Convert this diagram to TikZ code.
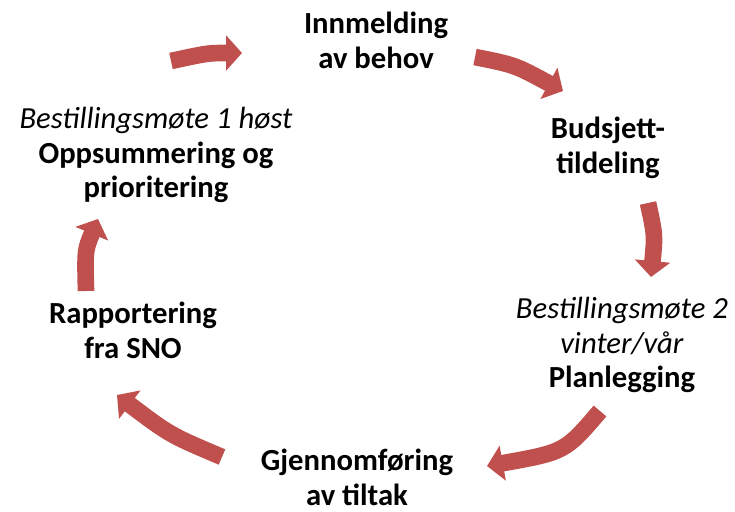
\documentclass[tikz,border=0pt]{standalone}
\usepackage{fontspec}
\setmainfont{Carlito}
\usepackage{tikz}
\usetikzlibrary{arrows.meta, calc}

\definecolor{pilrod}{HTML}{C0504D}
\tikzset{
  steg/.style={align=center, font=\fontsize{23}{26.2}\selectfont\bfseries},
  pil/.style={draw=pilrod, line width=12.5pt, -{Triangle[width=26pt,length=12pt]}}
}

\begin{document}
\begin{tikzpicture}[x=0.75pt, y=-0.75pt]
    \useasboundingbox (0,0) rectangle (735,511);

    \node[steg] (innm) at (376, 40) {Innmelding\\av behov};
    \node[steg] (budsj) at (608, 148) {Budsjett-\\tildeling};
    \node[steg] (plan) at (622, 345) {\textmd{\itshape Bestillingsmøte 2}\\\textmd{\itshape vinter/vår}\\Planlegging};
    \node[steg] (gjen) at (357, 477) {Gjennomføring\\av tiltak};
    \node[steg] (rapp) at (133, 330) {Rapportering\\fra SNO};
    \node[steg] (opps) at (156, 155) {\textmd{\itshape Bestillingsmøte 1 høst}\\Oppsummering og\\prioritering};

    % pil-endepunkter
    \coordinate (a1) at (171, 61);  \coordinate (b1) at (242, 53);
    \coordinate (a2) at (475, 57);  \coordinate (b2) at (563, 91);
    \coordinate (a3) at (648, 203); \coordinate (b3) at (651, 277);
    \coordinate (a4) at (600, 411); \coordinate (b4) at (487, 466);
    \coordinate (a5) at (222, 457); \coordinate (b5) at (117, 395);
    \coordinate (a6) at (86, 291);  \coordinate (b6) at (98, 219);

    \draw[pil] (a1) .. controls (208, 53) .. (b1);
    \draw[pil] (a2) .. controls (515, 65) .. (b2);
    \draw[pil] (a3) .. controls (655, 235) .. (b3);
    \draw[pil] (a4) .. controls (565, 452) .. (b4);
    \draw[pil] (a5) .. controls (170, 435) .. (b5);
    \draw[pil] (a6) .. controls (85, 250) .. (b6);

\end{tikzpicture}
\end{document}
